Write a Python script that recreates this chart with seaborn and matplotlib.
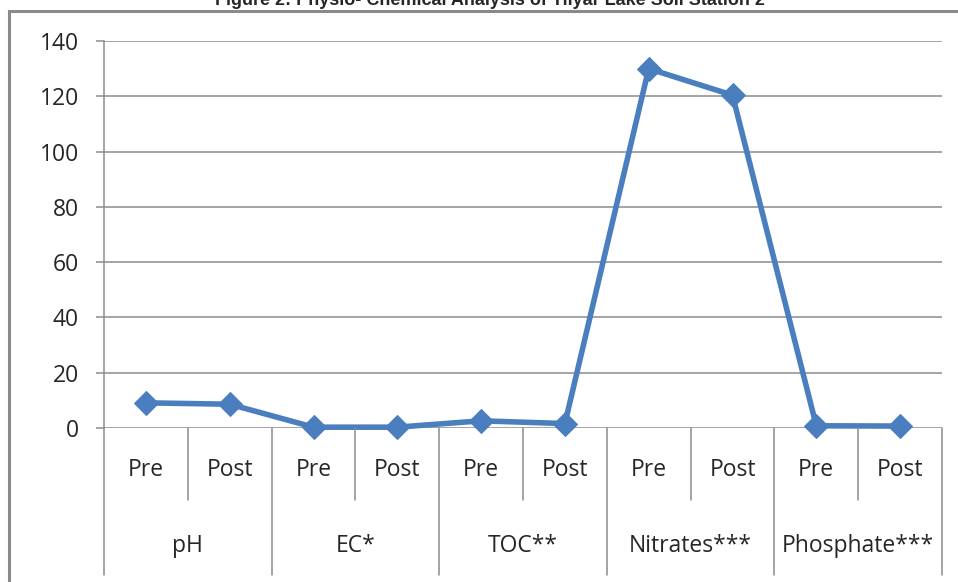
import numpy as np
import pandas as pd
import matplotlib
matplotlib.use("Agg")
import matplotlib.pyplot as plt
import seaborn as sns
from matplotlib.patches import Rectangle

# data
parameters = ["pH", "EC*", "TOC**", "Nitrates***", "Phosphate***"]
stages = ["Pre", "Post"]
values = [9.1, 8.6, 0.3, 0.3, 2.6, 1.6, 130.0, 120.4, 0.8, 0.7]
y_ticks = [0, 20, 40, 60, 80, 100, 120, 140]

title = "Figure 2: Physio- Chemical Analysis of Tilyar Lake Soil Station 2"

df = pd.DataFrame({
    "param": np.repeat(parameters, len(stages)),
    "stage": stages * len(parameters),
    "value": values,
})
df["pos"] = np.arange(len(df))

sns.set_theme(style="white")
plt.rcParams["font.family"] = ["Open Sans", "DejaVu Sans"]

W, H = 958, 582
fig = plt.figure(figsize=(W / 100, H / 100), dpi=100)
ax = fig.add_axes([104 / W, 154 / H, (942 - 104) / W, (428 - 41) / H])

line_c = "#4A7EBF"
grid_c = "#8C8C8C"
text_c = "#262626"
fs = 16.5

sns.lineplot(data=df, x="pos", y="value", ax=ax, color=line_c, lw=4,
             marker="D", markersize=12, markeredgecolor=line_c, clip_on=False)

ax.set_xlim(-0.5, len(df) - 0.5)
ax.set_ylim(0, 140)
ax.set_yticks(y_ticks)
ax.set_yticklabels([str(t) for t in y_ticks], fontsize=fs, color=text_c)
ax.set_xticks([])
ax.set_xlabel("")
ax.set_ylabel("")
for t in y_ticks:
    ax.axhline(t, color=grid_c, lw=1.1, zorder=0)
for side in ["top", "right", "bottom"]:
    ax.spines[side].set_visible(False)
ax.spines["left"].set_color(grid_c)
ax.spines["left"].set_linewidth(1.1)
ax.tick_params(axis="y", length=6, width=1.1, color=grid_c, pad=12, left=True)

# category axis below the plot (two levels)
trans = ax.get_xaxis_transform()
ax_h = (428 - 41)
y_inner = -(500 - 428) / ax_h
y_outer = -(575 - 428) / ax_h
y_stage = -(470 - 428) / ax_h
y_param = -(546 - 428) / ax_h
for i, row in df.iterrows():
    ax.text(row.pos, y_stage, row.stage, transform=trans, ha="center",
            va="center", fontsize=fs, color=text_c)
    if row.stage == "Pre":
        ax.plot([row.pos + 0.5] * 2, [0, y_inner], transform=trans,
                color=grid_c, lw=1.1, clip_on=False)
for k, p in enumerate(parameters):
    left = k * len(stages) - 0.5
    ax.plot([left] * 2, [0, y_outer], transform=trans, color=grid_c,
            lw=1.1, clip_on=False)
    ax.text(left + len(stages) / 2, y_param, p, transform=trans,
            ha="center", va="center", fontsize=fs, color=text_c)
last = len(df) - 0.5
ax.plot([last] * 2, [0, y_outer], transform=trans, color=grid_c, lw=1.1,
        clip_on=False)

# outer chart frame (partly outside the image)
fig.patches.append(Rectangle((9 / W, -0.1), 1.2, 1.1 - 11 / H,
                             transform=fig.transFigure, fill=False,
                             edgecolor="#8A8A8A", lw=2.2))

fig.text(490 / W, 1 - 5 / H, title, ha="center", va="baseline",
         fontsize=13, fontweight="bold", family=["Liberation Sans", "DejaVu Sans"])

fig.savefig("out.png", dpi=100)
